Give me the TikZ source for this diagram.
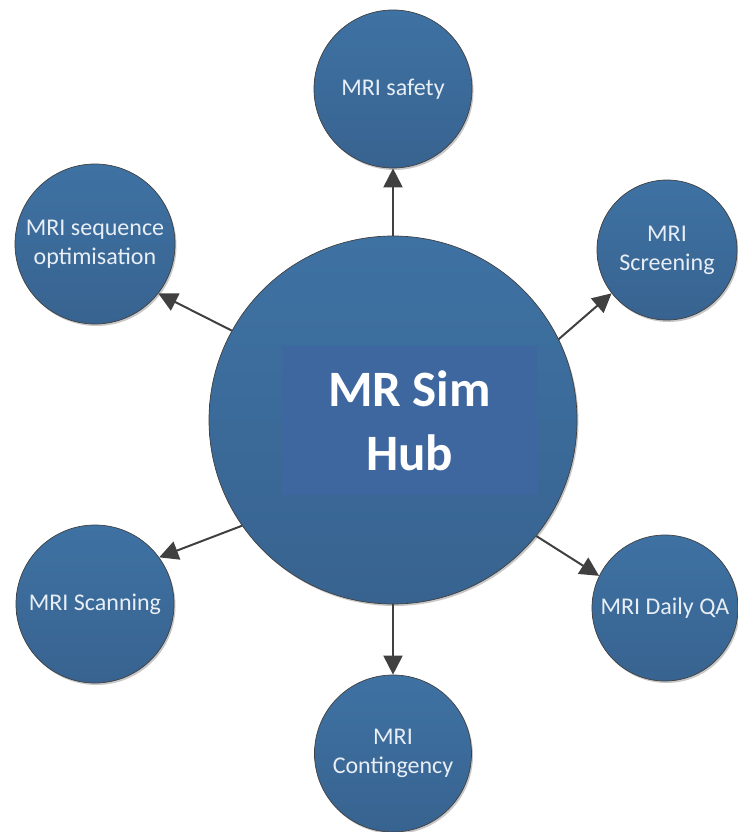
\documentclass[tikz,border=0pt]{standalone}
\usepackage{fontspec}
\setmainfont{Carlito}
\usetikzlibrary{arrows.meta,shadows}
\definecolor{circtop}{RGB}{62,114,163}
\definecolor{circbot}{RGB}{56,99,144}
\definecolor{rectblue}{RGB}{62,103,160}
\definecolor{arrowgray}{RGB}{64,64,64}
\definecolor{lbl}{RGB}{232,238,245}
\begin{document}
\begin{tikzpicture}[x=1pt,y=-1pt,
  bubble/.style={circle, inner sep=0pt, draw=black!75, line width=0.7pt,
    top color=circtop, bottom color=circbot, text=lbl,
    font=\fontsize{24}{29}\selectfont, align=center,
    drop shadow={shadow xshift=1.5pt, shadow yshift=-2pt, opacity=0.22, fill=black}},
  link/.style={draw=arrowgray, line width=2pt, -{Triangle[length=19pt,width=19pt]}}]
\useasboundingbox (0,0) rectangle (738,832);
\node[bubble, minimum size=368pt] (hub) at (393,420) {};
\node[fill=rectblue, minimum width=255pt, minimum height=149pt, inner sep=0pt,
  text=white, font=\fontsize{51}{64}\selectfont\bfseries, align=center]
  (title) at (409.5,420.5) {MR Sim\\Hub};
\node[bubble, minimum size=158pt] (safety) at (393,89) {MRI safety};
\node[bubble, minimum size=160pt] (seq) at (95,244) {MRI sequence\\optimisation};
\node[bubble, minimum size=140pt] (screen) at (667,250) {MRI\\Screening};
\node[bubble, minimum size=158pt] (scan) at (95,604) {MRI Scanning};
\node[bubble, minimum size=146pt] (qa) at (665,608) {MRI Daily QA};
\node[bubble, minimum size=157pt] (cont) at (393,753.5) {MRI\\Contingency};
\draw[link] (hub.north) -- (safety.south);
\draw[link] (hub.151.6) -- (seq.-38);
\draw[link] (hub.26.8) -- (screen.218);
\draw[link] (hub.215) -- (scan.36);
\draw[link] (hub.-39) -- (qa.154.5);
\draw[link] (hub.south) -- (cont.north);
\end{tikzpicture}
\end{document}
